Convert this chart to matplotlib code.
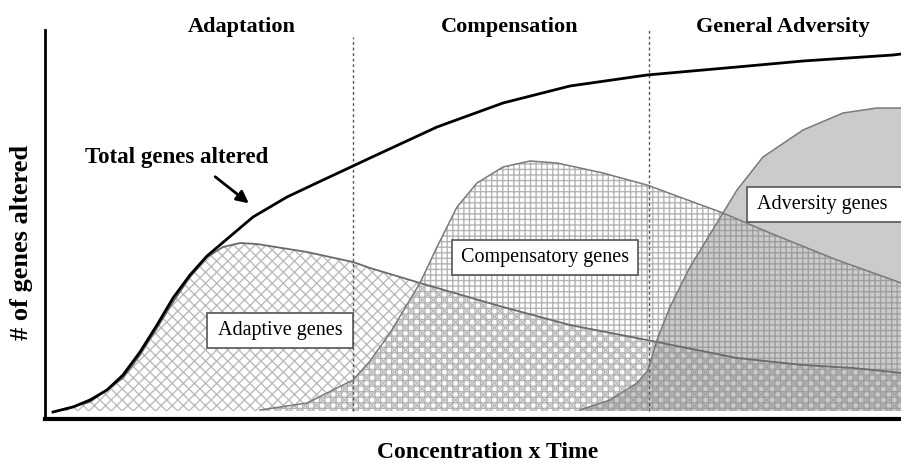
import matplotlib.pyplot as plt
from matplotlib.patches import Rectangle

plt.rcParams['font.family'] = ['Liberation Serif', 'DejaVu Serif']
plt.rcParams['hatch.linewidth'] = 1.0

# curves, x = concentration x time, y = number of genes altered (arbitrary units)
total_x = [8, 28, 45, 62, 78, 95, 112, 128, 145, 162, 182, 208, 242, 278, 308, 325,
           392, 458, 525, 602, 692, 758, 848, 856]
total_y = [7, 12, 19, 29, 44, 67, 94, 121, 144, 163, 180, 202, 222, 239, 253, 261,
           292, 316, 333, 344, 352, 358, 364, 365]

adapt_x = [8, 45, 78, 95, 112, 128, 145, 162, 178, 195, 212, 262, 308, 325, 375,
           458, 525, 612, 692, 758, 808, 848, 856]
adapt_y = [7, 17, 41, 64, 91, 117, 142, 162, 172, 176, 175, 167, 157, 151, 136,
           112, 94, 77, 61, 54, 51, 47, 46]

comp_x = [215, 262, 308, 325, 345, 375, 392, 412, 432, 458, 485, 512, 558, 602,
          678, 725, 792, 848, 856]
comp_y = [9, 16, 39, 58, 86, 136, 172, 212, 236, 252, 258, 256, 246, 234,
          206, 186, 159, 139, 136]

adv_x = [535, 565, 592, 603, 612, 625, 645, 678, 692, 718, 758, 798, 832, 856]
adv_y = [9, 19, 36, 49, 79, 112, 152, 206, 229, 262, 289, 306, 311, 311]

baseline = 8
phase_bounds = [308, 604]
phase_names = ['Adaptation', 'Compensation', 'General Adversity']
phase_centers = [197, 465, 738]

fig = plt.figure(figsize=(9.01, 4.65), dpi=100)
ax = fig.add_axes([45 / 901, 46 / 465, 856 / 901, 389 / 465])
ax.set_xlim(0, 856)
ax.set_ylim(0, 389)

# filled areas
ax.fill_between(adapt_x, baseline, adapt_y, facecolor='white', edgecolor='#bcbcbc',
                hatch='xxx', linewidth=0, zorder=1)
ax.fill_between(comp_x, baseline, comp_y, facecolor='none', edgecolor='#b4b4b4',
                hatch='+++', linewidth=0, zorder=1.1)
ax.fill_between(adv_x, baseline, adv_y, facecolor='#7f7f7f', alpha=0.4,
                linewidth=0, zorder=1.2)

# outlines
ax.plot(adapt_x, adapt_y, color='#6a6a6a', lw=1.3, zorder=2, solid_joinstyle='round')
ax.plot(comp_x, comp_y, color='#7a7a7a', lw=1.1, zorder=2, solid_joinstyle='round')
ax.plot(adv_x, adv_y, color='#7a7a7a', lw=1.1, zorder=2, solid_joinstyle='round')
ax.plot(total_x, total_y, color='black', lw=2.0, zorder=3, solid_joinstyle='round')

# phase separators
ax.plot([phase_bounds[0]] * 2, [baseline, 382], color='#555555', lw=1, ls=(0, (2, 2)), zorder=2.5)
ax.plot([phase_bounds[1]] * 2, [baseline, 389], color='#555555', lw=1, ls=(0, (2, 2)), zorder=2.5)

for name, cx in zip(phase_names, phase_centers):
    ax.text(cx, 392, name, ha='center', va='center', fontsize=16, fontweight='bold',
            clip_on=False)

# total genes annotation
ax.text(40, 262, 'Total genes altered', ha='left', va='center', fontsize=16.5,
        fontweight='bold')
ax.annotate('', xy=(206, 214), xytext=(168, 244),
            arrowprops=dict(arrowstyle='-|>', color='black', lw=2, mutation_scale=18))

# labelled boxes
boxes = [
    ('Adaptive genes', 162, 71, 146, 35, 'center'),
    ('Compensatory genes', 407, 144, 186, 35, 'center'),
    ('Adversity genes', 702, 197, 165, 35, 'left'),
]
for label, bx, by, bw, bh, align in boxes:
    ax.add_patch(Rectangle((bx, by), bw, bh, facecolor='white', edgecolor='#555555',
                           lw=1.2, zorder=4, clip_on=False))
    tx = bx + bw / 2 if align == 'center' else bx + 10
    ax.text(tx, by + bh / 2, label, ha=align, va='center', fontsize=14.5, zorder=5)

ax.set_xticks([])
ax.set_yticks([])
for side in ['top', 'right']:
    ax.spines[side].set_visible(False)
ax.spines['left'].set_linewidth(2)
ax.spines['bottom'].set_linewidth(3)

# axis titles
fig.text(22 / 901, 1 - 242 / 465, '# of genes altered', rotation=90, ha='center',
         va='center', fontsize=19, fontweight='bold')
ax.text(443, -33, 'Concentration x Time', ha='center', va='center', fontsize=17,
        fontweight='bold', clip_on=False)

fig.savefig('out.png', dpi=100)
